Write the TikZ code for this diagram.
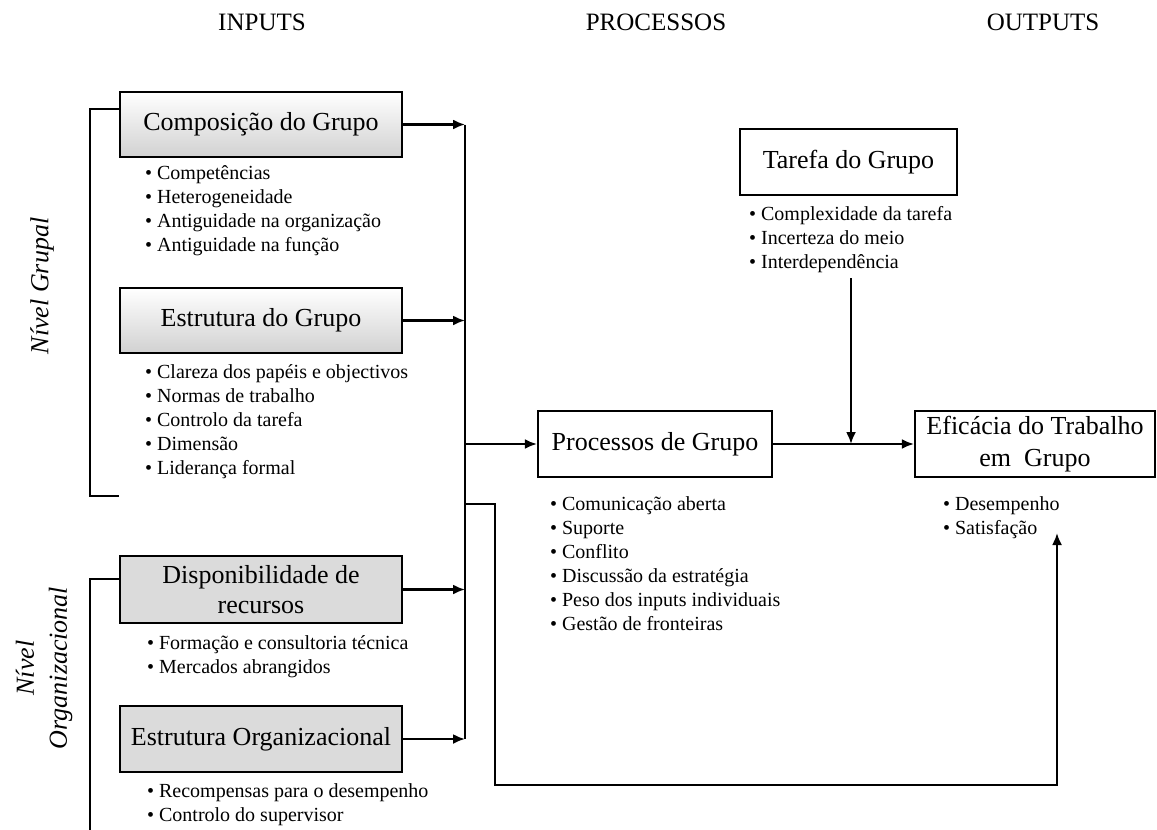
\documentclass[tikz,border=0pt]{standalone}
\usepackage{fontspec}
\setmainfont{Liberation Serif}
\usetikzlibrary{arrows.meta,calc}
\begin{document}
\begin{tikzpicture}[x=1pt,y=-1pt,
  line width=2.2pt,
  header/.style={font=\fontsize{25}{30}\selectfont},
  inbox/.style={draw, line width=2.2pt, minimum width=282pt, inner sep=2pt, align=center, font=\fontsize{26}{30}\selectfont},
  gradbox/.style={inbox, top color=white, bottom color=black!18},
  greybox/.style={inbox, fill=black!14},
  whitebox/.style={draw, line width=2.2pt, fill=white, inner sep=2pt, align=center, font=\fontsize{26}{32}\selectfont},
  bullets/.style={anchor=north west, align=left, inner sep=0pt, font=\fontsize{20}{24}\selectfont},
  side/.style={rotate=90, align=center, font=\itshape\fontsize{26}{33}\selectfont},
  arr/.style={-{Latex[length=12pt,width=10pt]}, line width=2.2pt},
  conn/.style={line width=2.2pt}
]
\useasboundingbox (0,0) rectangle (1157,830);

% headers
\node[header] (hin) at (262,22) {INPUTS};
\node[header] (hproc) at (656,22) {PROCESSOS};
\node[header] (hout) at (1043,22) {OUTPUTS};

% side labels
\node[side] (ngrupal) at (42,286) {Nível Grupal};
\node[side] (norg) at (44,668) {Nível\\Organizacional};

% input boxes
\node[gradbox, minimum height=65pt] (comp) at (261,124.5) {Composição do Grupo};
\node[gradbox, minimum height=65pt] (estg) at (261,320.5) {Estrutura do Grupo};
\node[greybox, minimum height=67pt] (disp) at (261,589.5) {Disponibilidade de\\recursos};
\node[greybox, minimum height=66pt] (esto) at (261,739) {Estrutura Organizacional};

% bullets inputs
\node[bullets] (bcomp) at (144,164) {\textbullet\ Competências\\\textbullet\ Heterogeneidade\\\textbullet\ Antiguidade na organização\\\textbullet\ Antiguidade na função};
\node[bullets] (bestg) at (144,363) {\textbullet\ Clareza dos papéis e objectivos\\\textbullet\ Normas de trabalho\\\textbullet\ Controlo da tarefa\\\textbullet\ Dimensão\\\textbullet\ Liderança formal};
\node[bullets] (bdisp) at (146,634) {\textbullet\ Formação e consultoria técnica\\\textbullet\ Mercados abrangidos};
\node[bullets] (besto) at (146,783) {\textbullet\ Recompensas para o desempenho\\\textbullet\ Controlo do supervisor};

% process / output boxes
\node[whitebox, minimum width=234pt, minimum height=66pt] (proc) at (655,444) {Processos de Grupo};
\node[whitebox, minimum width=240pt, minimum height=66pt] (efic) at (1035,444) {Eficácia do Trabalho\\em~~Grupo};
\node[whitebox, minimum width=217pt, minimum height=66pt] (tar) at (848.5,162) {Tarefa do Grupo};

\node[bullets] (bproc) at (549,496) {\textbullet\ Comunicação aberta\\\textbullet\ Suporte\\\textbullet\ Conflito\\\textbullet\ Discussão da estratégia\\\textbullet\ Peso dos inputs individuais\\\textbullet\ Gestão de fronteiras};
\node[bullets] (befic) at (942,496) {\textbullet\ Desempenho\\\textbullet\ Satisfação};
\node[bullets] (btar) at (748,205) {\textbullet\ Complexidade da tarefa\\\textbullet\ Incerteza do meio\\\textbullet\ Interdependência};

% bus
\coordinate (busx) at (465,0);
\draw[arr] (comp.east) -- (comp.east -| busx);
\draw[arr] (estg.east) -- (estg.east -| busx);
\draw[arr] (disp.east) -- (disp.east -| busx);
\draw[arr] (esto.east) -- (esto.east -| busx);
\draw[conn] (comp.east -| busx) -- (esto.east -| busx);
\draw[arr] (proc.west -| busx) -- (proc.west);

% process to output
\draw[arr] (proc.east) -- (efic.west);
\coordinate (tline) at (851,278);
\draw[arr] (tline) -- (tline |- proc.east);

% feedback loop
\coordinate (loopA) at (465,504);
\coordinate (loopB) at (495,785);
\coordinate (loopE) at (1057,533);
\draw[arr] (loopA) -| (loopB) -| (loopE);

% brackets
\coordinate (brA) at (90,109);
\coordinate (brB) at (90,496);
\coordinate (brC) at (90,579);
\coordinate (brD) at (90,830);
\draw[conn] (brA -| comp.west) -- (brA) -- (brB) -- (brB -| comp.west);
\draw[conn] (brC -| disp.west) -- (brC) -- (brD);
\end{tikzpicture}
\end{document}
